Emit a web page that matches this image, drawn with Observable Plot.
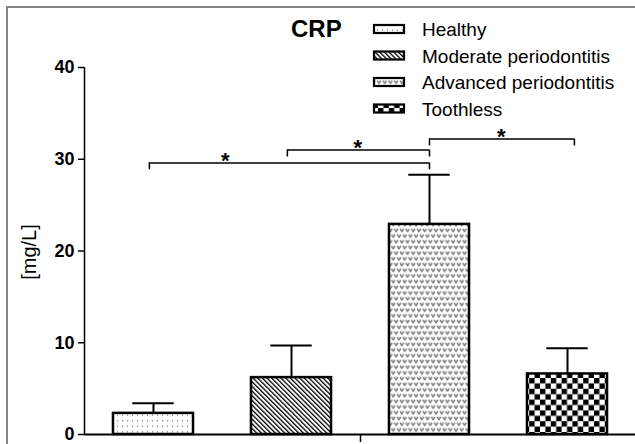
<!DOCTYPE html>
<html>
<head>
<meta charset="utf-8">
<script src="https://cdn.jsdelivr.net/npm/d3@7"></script>
<script src="https://cdn.jsdelivr.net/npm/@observablehq/plot@0.6"></script>
<style>
  html, body { margin: 0; padding: 0; background: #fff; }
  #wrap { position: relative; width: 635px; height: 444px; overflow: hidden; font-family: "Liberation Sans", Arial, sans-serif; }
  #frame { position: absolute; left: 6px; top: 6px; width: 700px; height: 500px; border-left: 2px solid #858585; border-top: 2px solid #858585; pointer-events: none; }
  #defs { position: absolute; width: 0; height: 0; }
  .overlay { position: absolute; left: 0; top: 0; pointer-events: none; }
</style>
</head>
<body>
<svg id="defs" width="0" height="0">
  <defs>
    <pattern id="pat-healthy" patternUnits="userSpaceOnUse" width="5" height="5.5">
      <rect width="5" height="5.5" fill="#fff"/>
      <circle cx="2.5" cy="2.7" r="0.7" fill="#666"/>
    </pattern>
    <pattern id="pat-moderate" patternUnits="userSpaceOnUse" width="3.3" height="3.3" patternTransform="rotate(-45)">
      <rect width="3.3" height="3.3" fill="#fff"/>
      <line x1="0" y1="0" x2="0" y2="3.3" stroke="#000" stroke-width="2.6"/>
    </pattern>
    <pattern id="pat-advanced" patternUnits="userSpaceOnUse" width="5.7" height="11.4">
      <rect width="5.7" height="11.4" fill="#fff"/>
      <path d="M1,1.2 L2.85,3.6 L4.7,1.2" fill="none" stroke="#555" stroke-width="1"/>
      <circle cx="1.6" cy="1.3" r="0.8" fill="#777"/>
      <circle cx="4.1" cy="1.3" r="0.8" fill="#777"/>
      <path d="M-1.85,6.9 L0,9.3 L1.85,6.9 M3.85,6.9 L5.7,9.3 L7.55,6.9" fill="none" stroke="#555" stroke-width="1"/>
      <circle cx="-1.2" cy="7" r="0.8" fill="#777"/>
      <circle cx="1.2" cy="7" r="0.8" fill="#777"/>
      <circle cx="4.5" cy="7" r="0.8" fill="#777"/>
      <circle cx="6.9" cy="7" r="0.8" fill="#777"/>
    </pattern>
    <pattern id="pat-toothless" patternUnits="userSpaceOnUse" width="10.8" height="10.8">
      <rect width="10.8" height="10.8" fill="#fff"/>
      <rect x="0" y="0" width="5.4" height="5.4" fill="#000"/>
      <rect x="5.4" y="5.4" width="5.4" height="5.4" fill="#000"/>
    </pattern>
  </defs>
</svg>
<div id="wrap">
  <div id="chart"></div>
  <div id="frame"></div>
</div>
<script>
// ---- data ----
const groups = ["Healthy", "Moderate periodontitis", "Advanced periodontitis", "Toothless"];
const means = [2.3, 6.2, 22.9, 6.6];
const errUpper = [3.4, 9.7, 28.3, 9.4];
const yTicks = [0, 10, 20, 30, 40];
const title = "CRP";
const yLabel = "[mg/L]";
// significance brackets (x in category index units, 1..4)
const bracketFrom = [0.97, 1.97, 3.0];
const bracketTo = [3.0, 3.0, 4.05];
const bracketY = [29.6, 31.0, 32.2];
const starX = [1.52, 2.48, 3.52];
const starText = ["*", "*", "*"];

// ---- styling ----
const patterns = ["url(#pat-healthy)", "url(#pat-moderate)", "url(#pat-advanced)", "url(#pat-toothless)"];
const barHalf = 0.29, capHalf = 0.15, drop = 0.75;

const data = groups.map((g, i) => ({group: g, pos: i + 1, mean: means[i], upper: errUpper[i]}));
const brackets = bracketFrom.map((f, i) => ({x1: f, x2: bracketTo[i], y: bracketY[i], sx: starX[i], star: starText[i]}));
const drops = brackets.flatMap(b => [{x: b.x1, y: b.y}, {x: b.x2, y: b.y}]);

const chart = Plot.plot({
  width: 635,
  height: 444,
  marginTop: 67,
  marginBottom: 10,
  marginLeft: 84,
  marginRight: 0,
  style: {fontFamily: "'Liberation Sans', Arial, sans-serif", color: "#000", background: "transparent"},
  x: {domain: [0.5, 4.5], range: [84, 636]},
  y: {domain: [0, 40], range: [434, 67]},
  color: {domain: groups, range: patterns},
  marks: [
    Plot.rect(data, {x1: d => d.pos - barHalf, x2: d => d.pos + barHalf, y1: 0, y2: "mean", fill: "group", stroke: "#000", strokeWidth: 2.5}),
    Plot.ruleX(data, {x: "pos", y1: "mean", y2: "upper", stroke: "#000", strokeWidth: 2}),
    Plot.ruleY(data, {y: "upper", x1: d => d.pos - capHalf, x2: d => d.pos + capHalf, stroke: "#000", strokeWidth: 2}),
    Plot.ruleY([0], {x1: 0.5, x2: 4.5, stroke: "#000", strokeWidth: 2}),
    Plot.ruleX([0.5], {y1: 0, y2: 40, stroke: "#000", strokeWidth: 1.5}),
    Plot.axisY({ticks: yTicks, tickSize: 6, tickPadding: 4, fontSize: 18, fontWeight: "bold", label: null, strokeWidth: 1.5}),
    Plot.axisX({ticks: [2.5], tickSize: 8, tickFormat: () => "", label: null, strokeWidth: 1.5}),
    Plot.ruleY(brackets, {y: "y", x1: "x1", x2: "x2", stroke: "#000", strokeWidth: 1.5}),
    Plot.ruleX(drops, {x: "x", y1: "y", y2: d => d.y - drop, stroke: "#000", strokeWidth: 1.5}),
    Plot.text(brackets, {x: "sx", y: "y", text: "star", fontSize: 22, fontWeight: "bold", lineAnchor: "bottom", dy: 5, fill: "#000"})
  ]
});
document.getElementById("chart").appendChild(chart);

// ---- overlay: title, legend, y label ----
const ov = d3.select("#wrap").append("svg").attr("class", "overlay").attr("width", 635).attr("height", 444)
  .style("font-family", "'Liberation Sans', Arial, sans-serif");
ov.append("text").attr("x", 291).attr("y", 37).attr("font-size", 24).attr("font-weight", "bold").text(title);
const rowY = [36, 62.5, 89, 115.5];
groups.forEach((g, i) => {
  ov.append("rect").attr("x", 374).attr("y", rowY[i] - 11).attr("width", 30).attr("height", 8)
    .attr("fill", patterns[i]).attr("stroke", "#000").attr("stroke-width", 2.2);
  ov.append("text").attr("x", 422).attr("y", rowY[i]).attr("font-size", 19).text(g);
});
ov.append("text").attr("transform", "translate(36,252) rotate(-90)").attr("text-anchor", "middle")
  .attr("font-size", 20).text(yLabel);
</script>
</body>
</html>
